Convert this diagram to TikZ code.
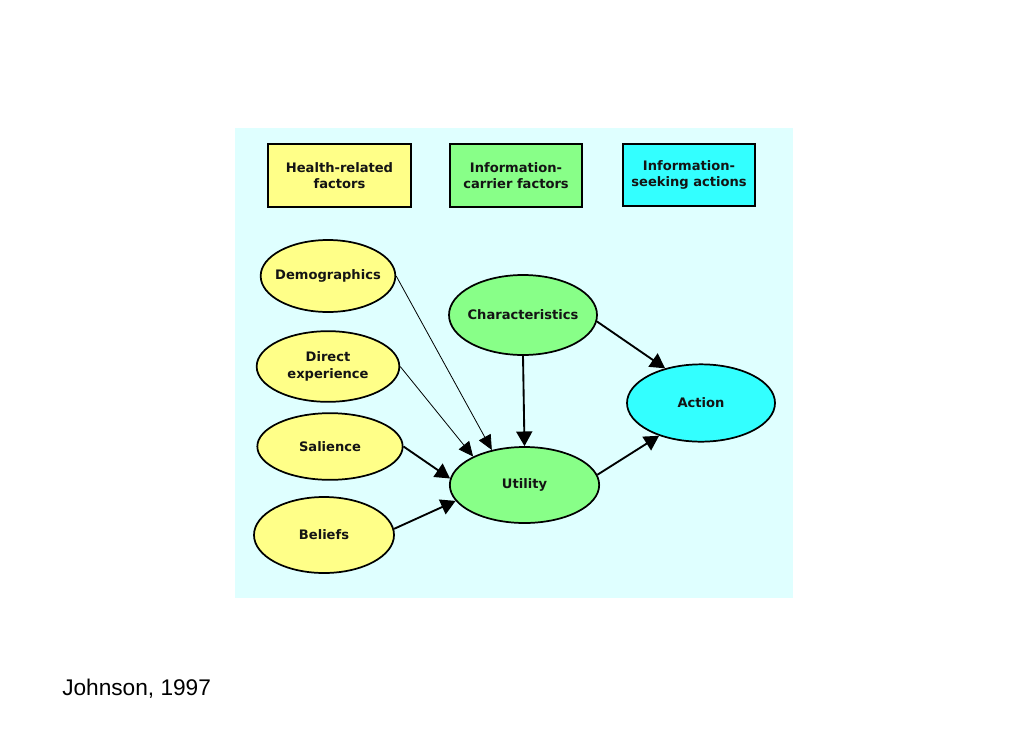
\documentclass[tikz,border=0pt]{standalone}
\usepackage{fontspec}
\setmainfont{DejaVu Sans}
\newfontfamily\citefont{Liberation Sans}
\usetikzlibrary{arrows.meta,shapes.geometric}
\definecolor{panelcyan}{HTML}{DFFFFF}
\definecolor{healthyellow}{HTML}{FFFF88}
\definecolor{carriergreen}{HTML}{88FF88}
\definecolor{seekcyan}{HTML}{33FFFF}
\definecolor{labelink}{HTML}{141414}

\begin{document}
\begin{tikzpicture}[
  x=0.75pt, y=-0.75pt,
  font=\fontsize{9.8}{12.5}\selectfont\bfseries,
  key/.style={draw,line width=1.5pt,minimum height=47pt,align=center,text=labelink,inner sep=0pt},
  factor/.style={ellipse,draw,line width=1.3pt,align=center,text=labelink,inner ysep=0pt,inner xsep=-5pt},
  arr/.style={-{Triangle[length=11pt,width=12pt]},line width=1.4pt},
  thinarr/.style={-{Triangle[length=11pt,width=10pt]},line width=0.6pt}
]
\useasboundingbox[fill=white] (0,0) rectangle (1030,728);
\fill[panelcyan] (235,128) rectangle (793,598);

% legend boxes
\node[key,fill=healthyellow,minimum width=107pt] (health) at (339.5,175.5) {Health-related\\factors};
\node[key,fill=carriergreen,minimum width=99pt] (carrier) at (516,175.5) {Information-\\carrier factors};
\node[key,fill=seekcyan,minimum width=99pt] (seeking) at (689,175) {Information-\\seeking actions};

% health-related factors
\node[factor,fill=healthyellow,minimum width=101pt,minimum height=54pt] (demo) at (328,276) {Demographics};
\node[factor,fill=healthyellow,minimum width=107pt,minimum height=53pt] (direct) at (328,366.5) {Direct\\experience};
\node[factor,fill=healthyellow,minimum width=109pt,minimum height=50pt] (salience) at (330,446.5) {Salience};
\node[factor,fill=healthyellow,minimum width=105pt,minimum height=57pt] (beliefs) at (324,535) {Beliefs};

% carrier factors and action
\node[factor,fill=carriergreen,minimum width=111pt,minimum height=60pt] (charac) at (523,315) {Characteristics};
\node[factor,fill=carriergreen,minimum width=112pt,minimum height=57pt] (utility) at (524.5,485) {Utility};
\node[factor,fill=seekcyan,minimum width=111pt,minimum height=58pt] (action) at (701,403) {Action};

\draw[thinarr] (demo.east) -- (utility.133);
\draw[thinarr] (direct.east) -- (utility.151);
\draw[arr] (salience.east) -- (utility.175);
\draw[arr] (beliefs.5) -- (utility.193);
\draw[arr] (charac.south) -- (utility.north);
\draw[arr] (charac.-5) -- (action.136);
\draw[arr] (utility.8) -- (action.218);

\node[font=\citefont\fontsize{17}{20}\selectfont,anchor=base west,inner sep=0pt] (source) at (62,695) {Johnson, 1997};
\end{tikzpicture}
\end{document}
